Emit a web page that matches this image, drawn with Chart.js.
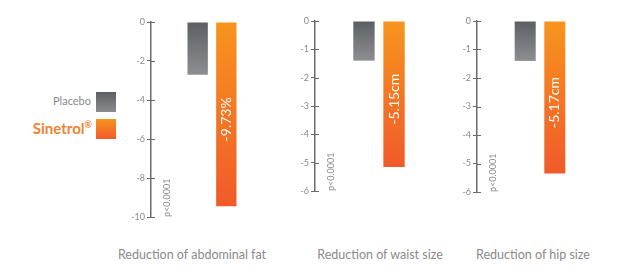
<!DOCTYPE html>
<html>
<head>
<meta charset="utf-8">
<script src="https://cdn.jsdelivr.net/npm/chart.js@4"></script>
<style>
  body { margin: 0; background: #fff; width: 621px; height: 274px; position: relative; overflow: hidden; font-family: Lato, "DejaVu Sans", sans-serif; }
  canvas { position: absolute; top: 0; }
  .group-label { position: absolute; top: 247px; color: #8a8a8a; font-size: 12.5px; white-space: nowrap; transform: translateX(-50%); }
  .legend-text { position: absolute; text-align: right; white-space: nowrap; }
  .legend-box { position: absolute; left: 96px; width: 20px; height: 20px; }
</style>
</head>
<body>
<div class="legend-text" style="right:530px; top:94px; font-size:11px; color:#8a8a8a;">Placebo</div>
<div class="legend-box" style="top:92px; background:linear-gradient(#5b5f64,#8b8c90);"></div>
<div class="legend-text" style="right:529px; top:119px; font-size:15px; font-weight:bold; color:#ef8232;">Sinetrol<sup style="font-size:9px">®</sup></div>
<div class="legend-box" style="top:119px; background:linear-gradient(#f7941e,#f15a29);"></div>

<canvas id="c0"></canvas>
<canvas id="c1"></canvas>
<canvas id="c2"></canvas>

<script>
// Données
const groups = ['Reduction of abdominal fat', 'Reduction of waist size', 'Reduction of hip size'];
const seriesNames = ['Placebo', 'Sinetrol®'];
const placeboValues = [-2.7, -1.4, -1.4];
const sinetrolValues = [-9.45, -5.15, -5.35];
const valueLabels = ['-9.73%', '-5.15cm', '-5.17cm'];
const axisMins = [-10, -6, -6];
const axisSteps = [2, 1, 1];
const pValue = 'p<0.0001';

// Mise en page de chaque graphique
const boxes = [
    { left: 121, width: 152, top: 22, bottom: 217, label: 192 },
    { left: 285, width: 158, top: 21, bottom: 191, label: 380 },
    { left: 447, width: 156, top: 21, bottom: 192.5, label: 533 }
];

function barGradient(ctx, colors) {
    const chart = ctx.chart;
    if (!chart.chartArea) return colors[0];
    const y = chart.scales.y;
    const v = ctx.raw;
    const g = chart.ctx.createLinearGradient(0, y.getPixelForValue(0), 0, y.getPixelForValue(v));
    g.addColorStop(0, colors[0]);
    g.addColorStop(1, colors[1]);
    return g;
}

// Petits traits de graduation de l'autre côté de l'axe + textes
const extras = {
    id: 'extras',
    afterDraw(chart, args, opts) {
        const c = chart.ctx;
        const y = chart.scales.y;
        const a = chart.chartArea;
        c.save();
        c.strokeStyle = '#6b6b6b';
        c.lineWidth = 1;
        y.ticks.forEach(t => {
            const py = Math.round(y.getPixelForValue(t.value)) + 0.5;
            c.beginPath();
            c.moveTo(a.left, py);
            c.lineTo(a.left + 4, py);
            c.stroke();
        });
        // p-value
        c.fillStyle = '#8a8a8a';
        c.font = '9px Lato, "DejaVu Sans", sans-serif';
        c.translate(a.left + 16, a.bottom);
        c.rotate(-Math.PI / 2);
        c.textBaseline = 'middle';
        c.textAlign = 'left';
        c.fillText(pValue, 0, 0);
        c.restore();

        // valeur dans la barre orange
        const bar = chart.getDatasetMeta(1).data[0];
        c.save();
        c.fillStyle = '#fff';
        c.font = '14px Lato, "DejaVu Sans", sans-serif';
        c.translate(bar.x, (bar.y + bar.base) / 2 + 5);
        c.rotate(-Math.PI / 2);
        c.textAlign = 'center';
        c.textBaseline = 'middle';
        c.fillText(opts.text, 0, 0);
        c.restore();
    }
};

groups.forEach((name, i) => {
    const b = boxes[i];
    const canvas = document.getElementById('c' + i);
    canvas.width = b.width;
    canvas.height = b.bottom + 8;
    canvas.style.left = b.left + 'px';

    const lab = document.createElement('div');
    lab.className = 'group-label';
    lab.style.left = b.label + 'px';
    lab.textContent = name;
    document.body.appendChild(lab);

    new Chart(canvas, {
        type: 'bar',
        data: {
            labels: [name],
            datasets: [
                {
                    label: seriesNames[0],
                    data: [placeboValues[i]],
                    backgroundColor: ctx => barGradient(ctx, ['#5b5f64', '#8d8e92'])
                },
                {
                    label: seriesNames[1],
                    data: [sinetrolValues[i]],
                    backgroundColor: ctx => barGradient(ctx, ['#f7941e', '#f15a29'])
                }
            ]
        },
        options: {
            responsive: false,
            animation: false,
            devicePixelRatio: 1,
            layout: { padding: { top: b.top, bottom: 8, left: 0, right: 0 } },
            datasets: { bar: { categoryPercentage: 0.47, barPercentage: 0.71 } },
            plugins: {
                legend: { display: false },
                tooltip: { enabled: false },
                extras: { text: valueLabels[i] }
            },
            scales: {
                x: { display: false },
                y: {
                    min: axisMins[i],
                    max: 0,
                    afterFit: s => { s.width = 30; },
                    ticks: {
                        stepSize: axisSteps[i],
                        color: '#8a8a8a',
                        padding: 2,
                        font: { size: 9, family: 'Lato, "DejaVu Sans", sans-serif' }
                    },
                    grid: { drawOnChartArea: false, color: '#6b6b6b', tickLength: 4 },
                    border: { color: '#6b6b6b', width: 1.5 }
                }
            }
        },
        plugins: [extras]
    });
});
</script>
</body>
</html>
